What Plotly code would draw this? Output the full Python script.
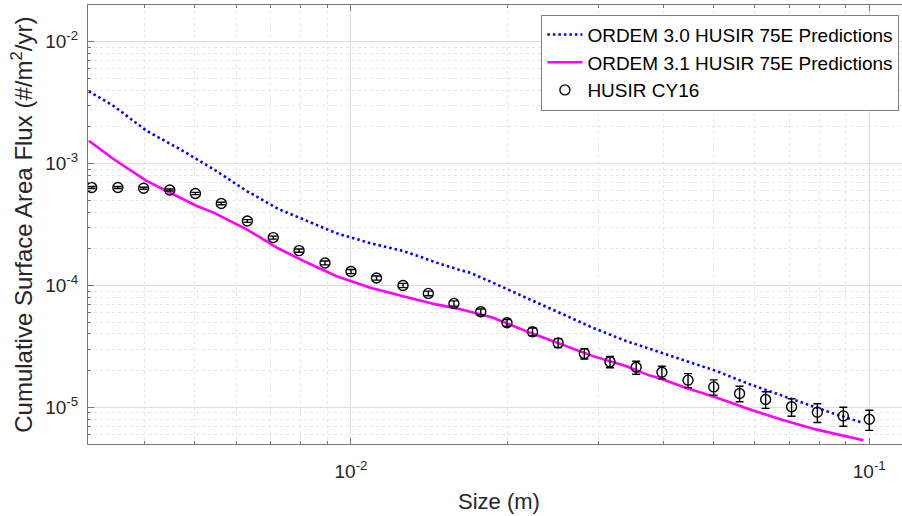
import plotly.graph_objects as go
import math

# ---------------- data ----------------
husir_size = [0.00316, 0.00355, 0.00398, 0.00447, 0.00501, 0.00562, 0.00631, 0.00708,
              0.00794, 0.00891, 0.0100, 0.0112, 0.0126, 0.0141, 0.0158, 0.0178,
              0.0200, 0.0224, 0.0251, 0.0282, 0.0316, 0.0355, 0.0398, 0.0447,
              0.0501, 0.0562, 0.0631, 0.0708, 0.0794, 0.0891, 0.1000]
husir_flux = [6.36e-4, 6.36e-4, 6.27e-4, 6.07e-4, 5.68e-4, 4.70e-4, 3.38e-4, 2.47e-4,
              1.93e-4, 1.53e-4, 1.30e-4, 1.15e-4, 1.00e-4, 8.60e-5, 7.12e-5, 6.08e-5,
              4.94e-5, 4.17e-5, 3.38e-5, 2.76e-5, 2.36e-5, 2.13e-5, 1.94e-5, 1.67e-5,
              1.47e-5, 1.30e-5, 1.16e-5, 1.01e-5, 9.1e-6, 8.5e-6, 7.97e-6]
husir_err = [1.2e-5, 1.2e-5, 1.2e-5, 1.2e-5, 1.2e-5, 1.1e-5, 9e-6, 7e-6,
             6e-6, 5.5e-6, 5e-6, 4.5e-6, 4e-6, 3.8e-6, 3.5e-6, 3.3e-6,
             3.2e-6, 3.0e-6, 2.8e-6, 2.7e-6, 2.5e-6, 2.6e-6, 2.3e-6, 2.2e-6,
             2.1e-6, 1.9e-6, 1.8e-6, 1.65e-6, 1.6e-6, 1.5e-6, 1.5e-6]

ordem30_size = [0.00312, 0.00348, 0.00403, 0.00468, 0.00543, 0.00629, 0.00726, 0.00809,
                0.00938, 0.0109, 0.0126, 0.0136, 0.0146, 0.0162, 0.0170, 0.0188,
                0.0218, 0.0253, 0.0293, 0.0340, 0.0377, 0.0438, 0.0508, 0.0589,
                0.0683, 0.0792, 0.0865, 0.0974]
ordem30_flux = [3.91e-3, 2.98e-3, 1.86e-3, 1.31e-3, 8.99e-4, 5.96e-4, 4.22e-4, 3.49e-4,
                2.68e-4, 2.22e-4, 1.92e-4, 1.72e-4, 1.54e-4, 1.34e-4, 1.27e-4, 1.05e-4,
                7.93e-5, 5.97e-5, 4.49e-5, 3.49e-5, 3.02e-5, 2.47e-5, 1.98e-5, 1.54e-5,
                1.23e-5, 9.89e-6, 8.71e-6, 7.44e-6]

ordem31_size = [0.00312, 0.00348, 0.00403, 0.00468, 0.00504, 0.00543, 0.00629, 0.00726,
                0.00809, 0.00938, 0.0109, 0.0126, 0.0146, 0.0162, 0.0188, 0.0218,
                0.0253, 0.0293, 0.0340, 0.0377, 0.0395, 0.0438, 0.0508, 0.0589,
                0.0683, 0.0792, 0.0974]
ordem31_flux = [1.54e-3, 1.09e-3, 7.21e-4, 5.26e-4, 4.49e-4, 3.96e-4, 2.89e-4, 2.00e-4,
                1.59e-4, 1.19e-4, 9.58e-5, 8.17e-5, 6.99e-5, 6.40e-5, 5.43e-5, 4.21e-5,
                3.32e-5, 2.63e-5, 2.17e-5, 1.82e-5, 1.72e-5, 1.47e-5, 1.20e-5, 9.58e-6,
                7.82e-6, 6.56e-6, 5.36e-6]

x_major = [0.01, 0.1]
x_major_text = ["10<sup>-2</sup>", "10<sup>-1</sup>"]
y_major = [1e-5, 1e-4, 1e-3, 1e-2]
y_major_text = ["10<sup>-5</sup>", "10<sup>-4</sup>", "10<sup>-3</sup>", "10<sup>-2</sup>"]

legend_names = ["ORDEM 3.0 HUSIR 75E Predictions",
                "ORDEM 3.1 HUSIR 75E Predictions",
                "HUSIR CY16"]

# ---------------- figure ----------------
FONT = "Liberation Sans, Arial, sans-serif"
fig = go.Figure()

fig.add_trace(go.Scatter(
    x=ordem30_size, y=ordem30_flux, mode="lines", name=legend_names[0],
    line=dict(color="#0000ff", width=2.6, dash="2.5px,3px")))
fig.add_trace(go.Scatter(
    x=ordem31_size, y=ordem31_flux, mode="lines", name=legend_names[1],
    line=dict(color="#ff00ff", width=2.6)))
fig.add_trace(go.Scatter(
    x=husir_size, y=husir_flux, mode="markers", name=legend_names[2],
    marker=dict(symbol="circle-open", size=10, color="black", line=dict(width=1.4, color="black")),
    error_y=dict(type="data", array=husir_err, visible=True, color="black", thickness=1.4, width=4)))

minor_x = [m * 10.0 ** e for e in (-3, -2, -1) for m in range(2, 10)]
minor_y = [m * 10.0 ** e for e in (-6, -5, -4, -3, -2) for m in range(2, 10)]

x_lo = -2.5074
x_hi = -0.9369

fig.update_xaxes(
    type="log", range=[x_lo, x_hi], automargin=False,
    tickmode="array", tickvals=x_major, ticktext=x_major_text,
    ticks="inside", ticklen=6, tickwidth=1, tickcolor="#777777",
    showline=True, linecolor="#777777", linewidth=1, mirror="ticks",
    showgrid=True, gridcolor="#dedede", gridwidth=1,
    minor=dict(tickvals=minor_x, ticks="inside", ticklen=3, tickcolor="#777777",
               showgrid=True, gridcolor="#e6e6e6", griddash="dot", gridwidth=1),
    tickfont=dict(family=FONT, size=19, color="#262626"),
    zeroline=False, ticklabelstandoff=10,
)
fig.update_yaxes(
    type="log", range=[math.log10(5e-6), math.log10(2e-2)], automargin=False,
    tickmode="array", tickvals=y_major, ticktext=y_major_text,
    ticks="inside", ticklen=6, tickwidth=1, tickcolor="#777777",
    showline=True, linecolor="#777777", linewidth=1, mirror=False,
    showgrid=True, gridcolor="#dedede", gridwidth=1,
    minor=dict(tickvals=minor_y, ticks="inside", ticklen=3, tickcolor="#777777",
               showgrid=True, gridcolor="#e6e6e6", griddash="dot", gridwidth=1),
    tickfont=dict(family=FONT, size=19, color="#262626"),
    zeroline=False, ticklabelstandoff=5,
)

fig.update_layout(
    width=902, height=516,
    margin=dict(l=88, r=0, t=5, b=72, autoexpand=False),
    paper_bgcolor="white", plot_bgcolor="white",
    showlegend=True,
    legend=dict(x=0.557, y=0.978, xanchor="left", yanchor="top",
                bgcolor="white", bordercolor="#7f7f7f", borderwidth=1,
                font=dict(family=FONT, size=19, color="#000000"),
                tracegroupgap=0, itemwidth=35),
    annotations=[
        dict(text="Size (m)", xref="paper", yref="paper", x=0.505, y=-0.13,
             xanchor="center", yanchor="middle", showarrow=False,
             font=dict(family=FONT, size=22, color="#262626")),
        dict(text="Cumulative Surface Area Flux (#/m<sup>2</sup>/yr)", xref="paper", yref="paper",
             x=-0.082, y=0.5, xanchor="center", yanchor="middle", textangle=-90, showarrow=False,
             font=dict(family=FONT, size=24, color="#262626")),
    ],
)

fig.write_html("out.html", config={"displayModeBar": False},
               post_script="document.body.style.margin='0px';document.body.style.padding='0px';")
